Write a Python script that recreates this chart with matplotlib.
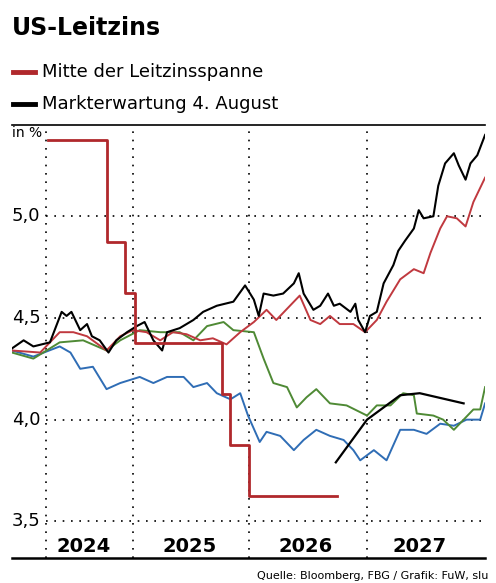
import matplotlib
matplotlib.use("Agg")
import matplotlib.pyplot as plt
from matplotlib.lines import Line2D

plt.rcParams['font.family'] = ['Liberation Sans Narrow', 'DejaVu Sans']

# ---- data (x in months since start, y in %) ----
step_t = [3.7, 9.7, 11.6, 12.6, 21.5, 22.4, 24.3, 33.3]
step_v = [5.375, 4.875, 4.625, 4.375, 4.125, 3.875, 3.625, 3.625]

curve_t = [33.2, 36.4, 39.8, 41.8, 46.3]
curve_v = [3.79, 4.00, 4.12, 4.13, 4.08]

black_t = [0, 1.2, 2.2, 3.9, 5.1, 5.6, 6.1, 7.0, 7.7, 8.2, 9.0, 9.9, 10.7, 11.8, 12.8, 13.6,
           14.5, 15.4, 15.9, 17.2, 18.6, 19.6, 21.0, 22.7, 23.9, 24.8, 25.3, 25.8, 26.8, 27.8,
           28.9, 29.4, 29.9, 30.9, 31.6, 32.4, 33.0, 33.6, 34.7, 35.2, 35.5, 36.2, 36.7, 37.4,
           38.1, 39.1, 39.6, 40.3, 41.2, 41.7, 42.2, 43.2, 43.7, 44.4, 45.3, 45.8, 46.5, 47.0,
           47.7, 48.5]
black_v = [4.35, 4.39, 4.36, 4.38, 4.53, 4.51, 4.53, 4.44, 4.47, 4.41, 4.39, 4.33, 4.39, 4.43,
           4.46, 4.48, 4.39, 4.34, 4.43, 4.45, 4.49, 4.53, 4.56, 4.58, 4.66, 4.59, 4.51, 4.62,
           4.61, 4.62, 4.67, 4.72, 4.62, 4.54, 4.56, 4.62, 4.56, 4.57, 4.53, 4.57, 4.49, 4.43,
           4.51, 4.53, 4.67, 4.76, 4.83, 4.88, 4.94, 5.03, 4.99, 5.00, 5.15, 5.26, 5.31, 5.25,
           5.18, 5.26, 5.30, 5.40]

red_t = [0, 2.9, 4.9, 6.3, 7.7, 9.7, 11.1, 12.4, 13.8, 15.2, 16.5, 17.9, 19.3, 20.6, 22.0,
         23.4, 24.8, 26.1, 27.1, 28.5, 29.5, 30.6, 31.6, 32.6, 33.6, 35.0, 36.2, 37.4, 38.4,
         39.8, 41.2, 42.2, 42.9, 43.9, 44.6, 45.6, 46.5, 47.3, 48.5]
red_v = [4.34, 4.33, 4.43, 4.43, 4.41, 4.34, 4.41, 4.44, 4.43, 4.39, 4.43, 4.42, 4.39, 4.40,
         4.37, 4.43, 4.48, 4.54, 4.49, 4.56, 4.61, 4.49, 4.47, 4.51, 4.47, 4.47, 4.43, 4.49,
         4.58, 4.69, 4.74, 4.72, 4.82, 4.94, 5.00, 4.99, 4.95, 5.07, 5.19]

green_t = [0, 2.2, 4.9, 7.3, 9.7, 11.1, 13.1, 15.2, 17.2, 18.6, 20.0, 21.7, 22.7, 24.8, 25.8,
           26.8, 28.2, 29.2, 30.2, 31.2, 32.6, 34.3, 36.4, 37.4, 38.8, 40.1, 41.2, 41.5, 43.2,
           44.2, 45.3, 46.3, 47.3, 48.0, 48.5]
green_v = [4.33, 4.30, 4.38, 4.39, 4.34, 4.39, 4.44, 4.43, 4.43, 4.39, 4.46, 4.48, 4.44, 4.43,
           4.30, 4.18, 4.16, 4.06, 4.11, 4.15, 4.08, 4.07, 4.02, 4.07, 4.07, 4.13, 4.12, 4.03,
           4.02, 4.00, 3.95, 4.00, 4.05, 4.05, 4.16]

blue_t = [0, 2.2, 4.9, 6.0, 7.0, 8.3, 9.7, 11.1, 13.1, 14.5, 15.9, 17.6, 18.6, 20.0, 21.0,
          22.4, 23.4, 24.2, 25.4, 26.1, 27.5, 28.9, 29.9, 31.2, 32.6, 34.0, 35.0, 35.7, 37.1,
          38.4, 39.8, 41.2, 42.5, 43.9, 45.3, 46.6, 48.0, 48.5]
blue_v = [4.34, 4.31, 4.36, 4.33, 4.25, 4.26, 4.15, 4.18, 4.21, 4.18, 4.21, 4.21, 4.16, 4.18,
          4.13, 4.10, 4.13, 4.02, 3.89, 3.94, 3.92, 3.85, 3.90, 3.95, 3.92, 3.90, 3.85, 3.80,
          3.85, 3.80, 3.95, 3.95, 3.93, 3.98, 3.97, 4.00, 4.00, 4.08]

year_edges = [3.5, 12.4, 24.3, 36.4]
year_mid = [7.4, 18.2, 30.1, 41.8]
year_labels = ["2024", "2025", "2026", "2027"]
y_ticks = [3.5, 4.0, 4.5, 5.0]
y_labels = ["3,5", "4,0", "4,5", "5,0"]
legend_labels = ["Mitte der Leitzinsspanne", "Markterwartung 4. August"]

RED = "#b0282c"
fig = plt.figure(figsize=(4.96, 5.83), dpi=100)
ax = fig.add_axes([0.024, 0.043, 0.954, 0.743])
ax.set_xlim(0, 48.5)
ax.set_ylim(3.32, 5.45)
for s in ["left", "right"]:
    ax.spines[s].set_visible(False)
ax.spines["top"].set_linewidth(1.2)
ax.spines["bottom"].set_linewidth(1.8)
ax.set_xticks([]); ax.set_yticks([])

for v in y_ticks:
    ax.plot([year_edges[0], 48.5], [v, v], ls=(0, (1, 4)), color="black", lw=1.2, zorder=1)
for e in year_edges:
    ax.axvline(e, ls=(0, (1, 4)), color="black", lw=1.2, zorder=1)

ax.plot(blue_t, blue_v, color="#2f6db5", lw=1.4, zorder=3)
ax.plot(green_t, green_v, color="#4f8a35", lw=1.4, zorder=3)
ax.plot(red_t, red_v, color="#c0393f", lw=1.4, zorder=4)
ax.plot(black_t, black_v, color="black", lw=1.5, zorder=5)
ax.step(step_t, step_v, where="post", color=RED, lw=2.0, zorder=6)
ax.plot(curve_t, curve_v, color="black", lw=1.6, zorder=6)

ytr = ax.get_yaxis_transform()
for v, l in zip(y_ticks, y_labels):
    ax.text(0.0, v, l, transform=ytr, fontsize=13, ha="left", va="center")
ax.text(0.0, 5.41, "in %", transform=ytr, fontsize=10, ha="left", va="center")
for m, l in zip(year_mid, year_labels):
    ax.text(m, 3.375, l, fontsize=14, fontweight="bold", ha="center", va="center")

fig.text(0.024, 0.952, "US-Leitzins", fontsize=17, fontweight="bold", ha="left", va="center")
for i, (lab, col) in enumerate(zip(legend_labels, [RED, "black"])):
    y = 0.877 - i * 0.055
    fig.add_artist(Line2D([0.026, 0.07], [y, y], color=col, lw=3.5))
    fig.text(0.085, y, lab, fontsize=13, ha="left", va="center")
fig.text(0.985, 0.012, "Quelle: Bloomberg, FBG / Grafik: FuW, slu", fontsize=8,
         ha="right", va="center")
fig.savefig("out.png", dpi=100)
